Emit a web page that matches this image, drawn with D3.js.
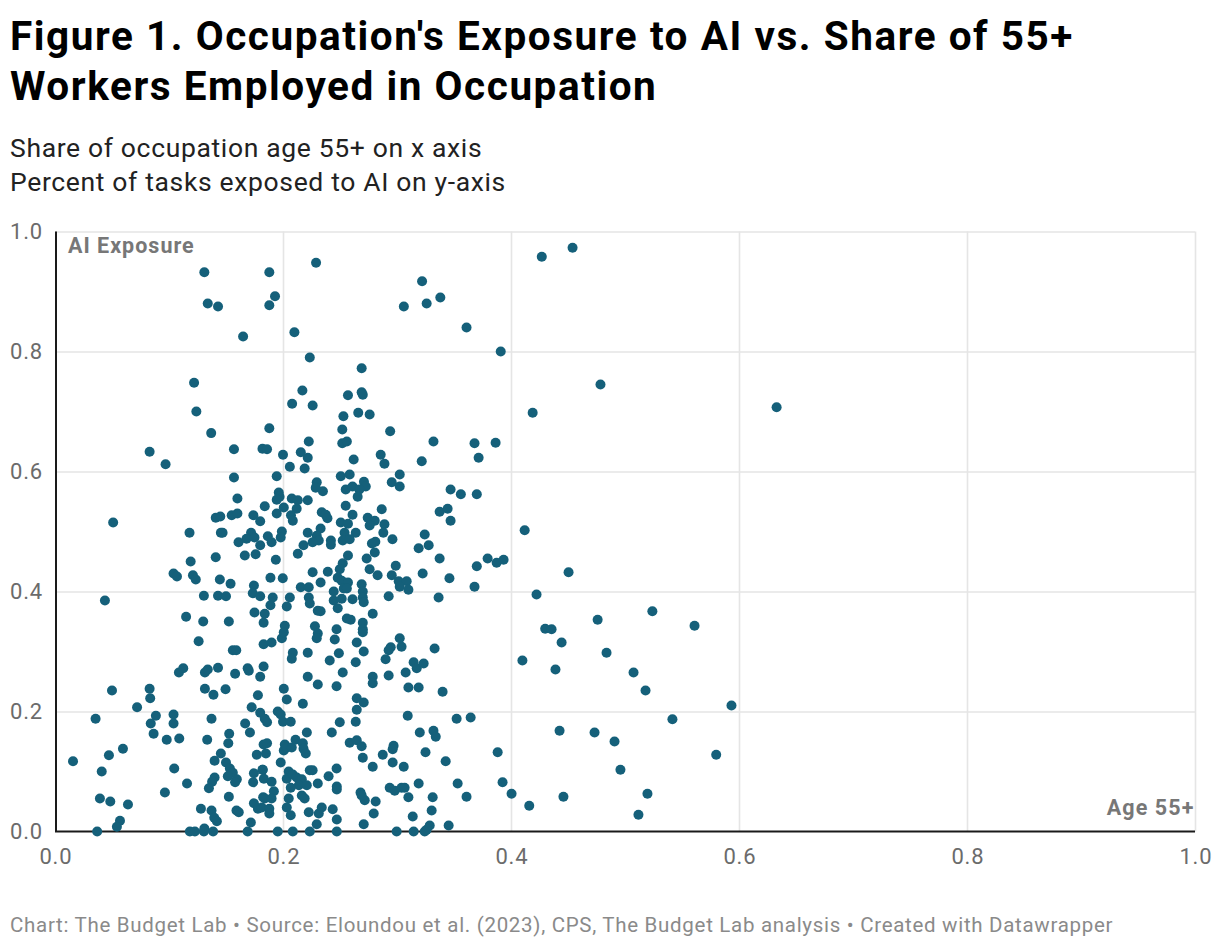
<!DOCTYPE html>
<html>
<head>
<meta charset="utf-8">
<script src="https://cdn.jsdelivr.net/npm/d3@7"></script>
<style>
  body { margin: 0; background: #fff; }
  text { font-family: Roboto, "Noto Sans", sans-serif; }
</style>
</head>
<body>
<script>
const titleLines = ["Figure 1. Occupation's Exposure to AI vs. Share of 55+", "Workers Employed in Occupation"]
const subtitleLines = ["Share of occupation age 55+ on x axis", "Percent of tasks exposed to AI on y-axis"]
const footerText = "Chart: The Budget Lab \u2022 Source: Eloundou et al. (2023), CPS, The Budget Lab analysis \u2022 Created with Datawrapper"

const xTicks = [0, 0.2, 0.4, 0.6, 0.8, 1.0]
const yTicks = [0, 0.2, 0.4, 0.6, 0.8, 1.0]

// [share of occupation age 55+, share of tasks exposed to AI]
const occupations = [
  [0.131,0.932],[0.188,0.932],[0.229,0.948],[0.134,0.880],[0.143,0.875],[0.193,0.892],[0.188,0.877],[0.165,0.825],[0.210,0.832],[0.322,0.917],[0.306,0.875],[0.326,0.880],[0.338,0.890],[0.361,0.840],[0.391,0.800],[0.427,0.958],[0.454,0.973],
  [0.2235,0.790],[0.269,0.772],[0.217,0.735],[0.208,0.713],[0.226,0.710],[0.257,0.727],[0.269,0.732],[0.270,0.728],[0.253,0.692],[0.266,0.698],[0.276,0.695],[0.188,0.672],[0.252,0.670],[0.294,0.667],
  [0.122,0.748],[0.124,0.700],[0.137,0.664],[0.4785,0.745],[0.419,0.698],[0.633,0.707],
  [0.083,0.633],[0.097,0.612],[0.157,0.637],[0.182,0.638],[0.157,0.590],[0.160,0.555],[0.184,0.542],[0.051,0.515],[0.141,0.523],[0.145,0.525],[0.155,0.527],[0.160,0.530],[0.174,0.527],[0.180,0.517],[0.118,0.498],[0.1455,0.498],[0.147,0.498],[0.172,0.498],[0.168,0.488],[0.175,0.490],[0.161,0.482],[0.180,0.477],[0.141,0.457],[0.1665,0.460],[0.176,0.462],[0.119,0.450],[0.104,0.430],[0.107,0.425],[0.121,0.427],[0.1235,0.420],[0.1446,0.420],[0.154,0.413],[0.1745,0.410],[0.0438,0.385],[0.1306,0.393],[0.143,0.393],[0.150,0.392],[0.1735,0.397],[0.180,0.392],[0.115,0.358],[0.130,0.350],[0.1525,0.350],[0.175,0.365],[0.183,0.348],
  [0.2226,0.650],[0.252,0.647],[0.256,0.650],[0.332,0.650],[0.186,0.637],[0.200,0.628],[0.2156,0.632],[0.2217,0.623],[0.262,0.620],[0.2857,0.628],[0.289,0.613],[0.3217,0.617],[0.206,0.608],[0.219,0.605],[0.1945,0.592],[0.2507,0.592],[0.2585,0.595],[0.271,0.583],[0.2726,0.575],[0.3024,0.595],[0.2954,0.582],[0.3024,0.575],[0.2296,0.582],[0.2287,0.573],[0.235,0.567],[0.255,0.570],[0.261,0.575],[0.267,0.570],[0.2655,0.558],[0.1963,0.565],[0.197,0.558],[0.1945,0.553],[0.347,0.570],[0.356,0.562],[0.2077,0.555],[0.213,0.552],[0.2217,0.552],[0.2007,0.540],[0.212,0.538],[0.255,0.543],[0.1945,0.530],[0.207,0.527],[0.234,0.532],[0.2375,0.528],[0.261,0.528],[0.2866,0.537],[0.3374,0.533],[0.3444,0.538],[0.347,0.518],[0.2086,0.518],[0.239,0.522],[0.2507,0.515],[0.257,0.513],[0.2743,0.523],[0.2805,0.518],[0.276,0.510],[0.289,0.512],[0.233,0.505],[0.254,0.498],[0.2638,0.498],[0.288,0.498],[0.2217,0.498],[0.199,0.500],[0.198,0.490],[0.1867,0.492],[0.190,0.482],[0.2296,0.493],[0.2314,0.485],[0.226,0.482],[0.218,0.477],[0.2524,0.485],[0.2585,0.487],[0.242,0.485],[0.242,0.478],[0.278,0.480],[0.281,0.483],[0.296,0.487],[0.3243,0.495],[0.3278,0.477],[0.319,0.472],[0.213,0.463],[0.257,0.460],[0.2805,0.465],[0.2734,0.455],[0.3374,0.455],[0.1937,0.453],[0.2524,0.447],[0.2989,0.443],[0.2498,0.437],[0.276,0.437],[0.226,0.432],[0.2393,0.433],[0.283,0.427],[0.2954,0.427],[0.3225,0.430],[0.346,0.422],[0.189,0.423],[0.1998,0.422],[0.248,0.423],[0.2515,0.418],[0.257,0.415],[0.233,0.415],[0.269,0.412],[0.3015,0.417],[0.3085,0.417],[0.3024,0.408],[0.310,0.403],[0.2156,0.407],[0.2226,0.407],[0.2445,0.400],[0.2533,0.405],[0.256,0.405],[0.270,0.400],[0.2927,0.392],[0.3365,0.390],[0.191,0.390],[0.206,0.390],[0.189,0.377],[0.2033,0.375],[0.2226,0.390],[0.2235,0.380],[0.2445,0.385],[0.2515,0.388],[0.261,0.387],[0.270,0.390],[0.2708,0.382],[0.248,0.372],[0.2305,0.368],[0.233,0.367],[0.2787,0.363],[0.184,0.363],[0.2016,0.343],[0.228,0.342],[0.256,0.355],[0.2594,0.353],[0.270,0.348],[0.247,0.337],
  [0.368,0.647],[0.3865,0.648],[0.3716,0.623],[0.370,0.562],[0.412,0.502],[0.3795,0.455],[0.3874,0.448],[0.3935,0.453],[0.370,0.442],[0.368,0.408],[0.4505,0.432],[0.4224,0.395],[0.524,0.367],[0.476,0.353],[0.561,0.343],[0.430,0.338],[0.4356,0.337],
  [0.4444,0.315],[0.410,0.285],[0.4838,0.298],[0.439,0.270],[0.5075,0.265],[0.518,0.235],[0.5934,0.210],[0.3646,0.190],[0.5416,0.187],[0.4426,0.168],[0.4733,0.165],[0.4908,0.150],[0.3883,0.132],[0.580,0.128],[0.496,0.103],[0.3926,0.082],[0.361,0.058],[0.4005,0.063],[0.416,0.043],[0.446,0.058],[0.5197,0.063],[0.5118,0.028],
  [0.126,0.317],[0.156,0.302],[0.159,0.302],[0.183,0.312],[0.1087,0.265],[0.1125,0.272],[0.1315,0.265],[0.134,0.270],[0.143,0.273],[0.158,0.263],[0.169,0.272],[0.170,0.268],[0.180,0.258],[0.183,0.275],[0.050,0.235],[0.083,0.238],[0.0835,0.222],[0.072,0.207],[0.1315,0.238],[0.139,0.228],[0.1496,0.237],[0.178,0.227],[0.1725,0.207],[0.180,0.198],[0.0356,0.188],[0.0885,0.193],[0.084,0.180],[0.104,0.195],[0.104,0.180],[0.0865,0.163],[0.098,0.153],[0.109,0.155],[0.1373,0.188],[0.1335,0.153],[0.1668,0.180],[0.171,0.165],[0.1528,0.163],[0.152,0.147],[0.183,0.145],[0.0596,0.138],[0.0473,0.127],[0.0158,0.117],[0.041,0.100],[0.1455,0.130],[0.140,0.118],[0.150,0.115],[0.177,0.128],[0.1534,0.105],[0.156,0.098],[0.1516,0.092],[0.1595,0.087],[0.158,0.082],[0.1745,0.097],[0.1738,0.082],[0.182,0.103],[0.1046,0.105],[0.1158,0.080],[0.140,0.090],[0.1378,0.083],[0.135,0.072],[0.0964,0.065],[0.0394,0.055],[0.0485,0.050],[0.064,0.045],[0.1525,0.058],[0.1745,0.047],[0.178,0.038],[0.1826,0.057],[0.128,0.038],[0.1373,0.035],[0.1397,0.023],[0.142,0.017],[0.1592,0.035],[0.1612,0.032],[0.1718,0.015],[0.057,0.018],[0.0543,0.008],[0.037,0],[0.1183,0],[0.1227,0],[0.131,0.005],[0.1306,0],[0.1387,0],[0.169,0],
  [0.2305,0.330],[0.2454,0.320],[0.270,0.337],[0.270,0.332],[0.2296,0.322],[0.199,0.322],[0.2007,0.332],[0.190,0.315],[0.2647,0.315],[0.2708,0.300],[0.3024,0.322],[0.304,0.308],[0.2945,0.307],[0.2927,0.302],[0.333,0.305],[0.2086,0.298],[0.2077,0.288],[0.2217,0.298],[0.249,0.297],[0.241,0.285],[0.2638,0.282],[0.290,0.287],[0.3146,0.282],[0.3173,0.272],[0.3234,0.280],[0.2217,0.258],[0.2305,0.245],[0.247,0.242],[0.2524,0.265],[0.2787,0.258],[0.2787,0.247],[0.2927,0.260],[0.3076,0.265],[0.310,0.240],[0.319,0.240],[0.340,0.233],[0.2007,0.238],[0.2033,0.220],[0.2174,0.213],[0.2647,0.222],[0.2708,0.215],[0.2647,0.203],[0.3094,0.193],[0.3523,0.188],[0.1954,0.200],[0.198,0.195],[0.184,0.188],[0.186,0.182],[0.200,0.183],[0.2068,0.183],[0.2498,0.182],[0.2638,0.183],[0.2428,0.165],[0.2209,0.165],[0.320,0.165],[0.332,0.168],[0.334,0.158],[0.186,0.147],[0.185,0.130],[0.2016,0.145],[0.2007,0.135],[0.2033,0.140],[0.211,0.153],[0.2077,0.140],[0.2174,0.147],[0.218,0.138],[0.220,0.130],[0.2585,0.148],[0.2647,0.152],[0.269,0.142],[0.270,0.123],[0.2787,0.108],[0.2875,0.128],[0.297,0.143],[0.2962,0.137],[0.2962,0.115],[0.3059,0.108],[0.325,0.132],[0.3427,0.117],[0.198,0.115],[0.1823,0.103],[0.1832,0.088],[0.190,0.083],[0.205,0.100],[0.2033,0.088],[0.2086,0.095],[0.212,0.090],[0.2165,0.087],[0.2139,0.077],[0.2209,0.077],[0.2068,0.073],[0.2235,0.102],[0.226,0.102],[0.247,0.105],[0.240,0.092],[0.2305,0.080],[0.2472,0.075],[0.2472,0.070],[0.192,0.067],[0.184,0.055],[0.190,0.055],[0.205,0.055],[0.2165,0.060],[0.219,0.055],[0.268,0.065],[0.2717,0.052],[0.269,0.060],[0.2813,0.050],[0.2936,0.073],[0.298,0.068],[0.304,0.073],[0.3067,0.073],[0.319,0.080],[0.310,0.057],[0.3313,0.057],[0.3532,0.080],[0.1814,0.040],[0.188,0.038],[0.188,0.030],[0.2033,0.040],[0.2068,0.027],[0.2226,0.032],[0.2314,0.030],[0.234,0.040],[0.2436,0.037],[0.2472,0.020],[0.2296,0.012],[0.2708,0.012],[0.2796,0.030],[0.3304,0.035],[0.3138,0.025],[0.3287,0.010],[0.326,0.003],[0.3453,0.010],[0.1954,0],[0.2086,0],[0.2235,0],[0.2472,0],[0.2997,0],[0.3146,0],[0.3243,0]
]

const WIDTH = 1220
const HEIGHT = 948
const PLOT = { left: 55, right: 1195, top: 231.5, bottom: 831.5 }
const DOT_COLOR = '#15607a'
const GRID_COLOR = '#e5e5e5'
const LABEL_COLOR = '#6b6b6b'

const svg = d3.select('body').append('svg')
  .attr('width', WIDTH)
  .attr('height', HEIGHT)

svg.append('rect').attr('width', WIDTH).attr('height', HEIGHT).attr('fill', '#fff')

const x = d3.scaleLinear().domain([0, 1]).range([PLOT.left, PLOT.right])
const y = d3.scaleLinear().domain([0, 1]).range([PLOT.bottom, PLOT.top])

// title + subtitle
svg.append('text')
  .style('font-size', '40.5px')
  .style('font-weight', 700)
  .style('letter-spacing', '1.55px')
  .attr('fill', '#000')
  .selectAll('tspan')
  .data(titleLines)
  .join('tspan')
  .attr('x', 10)
  .attr('y', (d, i) => 50 + i * 50)
  .text(d => d)

svg.append('text')
  .style('font-size', '26.5px')
  .style('letter-spacing', '0.65px')
  .attr('fill', '#222')
  .selectAll('tspan')
  .data(subtitleLines)
  .join('tspan')
  .attr('x', 10)
  .attr('y', (d, i) => 157 + i * 34)
  .text(d => d)

// gridlines
svg.append('g')
  .attr('transform', `translate(${PLOT.left},0)`)
  .call(d3.axisLeft(y).tickValues(yTicks.filter(d => d > 0)).tickSize(-(PLOT.right - PLOT.left)).tickFormat(''))
  .call(g => g.select('.domain').remove())
  .call(g => g.selectAll('line').attr('stroke', GRID_COLOR).attr('stroke-width', 1.6))

svg.append('g')
  .attr('transform', `translate(0,${PLOT.bottom})`)
  .call(d3.axisBottom(x).tickValues(xTicks.filter(d => d > 0)).tickSize(-(PLOT.bottom - PLOT.top)).tickFormat(''))
  .call(g => g.select('.domain').remove())
  .call(g => g.selectAll('line').attr('stroke', GRID_COLOR).attr('stroke-width', 1.6))

// tick labels
svg.append('g')
  .attr('transform', `translate(${PLOT.left},0)`)
  .call(d3.axisLeft(y).tickValues(yTicks).tickSize(0).tickPadding(12).tickFormat(d3.format('.1f')))
  .call(g => g.select('.domain').remove())
  .call(g => g.selectAll('text')
    .attr('fill', LABEL_COLOR)
    .style('font-size', '22px')
    .style('letter-spacing', '0.8px')
    .style('font-family', 'Roboto, sans-serif'))

svg.append('g')
  .attr('transform', `translate(0,${PLOT.bottom})`)
  .call(d3.axisBottom(x).tickValues(xTicks).tickSize(0).tickPadding(17).tickFormat(d3.format('.1f')))
  .call(g => g.select('.domain').remove())
  .call(g => g.selectAll('text')
    .attr('fill', LABEL_COLOR)
    .attr('dx', '0.4px')
    .style('font-size', '22px')
    .style('letter-spacing', '0.8px')
    .style('font-family', 'Roboto, sans-serif'))

// axis lines
svg.append('line')
  .attr('x1', PLOT.left).attr('x2', PLOT.right)
  .attr('y1', y(0)).attr('y2', y(0))
  .attr('stroke', '#1a1a1a').attr('stroke-width', 2)

svg.append('line')
  .attr('x1', x(0) + 1).attr('x2', x(0) + 1)
  .attr('y1', y(1)).attr('y2', y(0))
  .attr('stroke', '#1a1a1a').attr('stroke-width', 2)

svg.append('text')
  .attr('x', 68).attr('y', 253)
  .style('font-size', '21.5px').style('font-weight', 700)
  .style('letter-spacing', '1px')
  .attr('fill', '#777')
  .text('AI Exposure')

svg.append('text')
  .attr('x', 1194.5).attr('y', 815)
  .attr('text-anchor', 'end')
  .style('font-size', '21.5px').style('font-weight', 700)
  .style('letter-spacing', '1.1px')
  .attr('fill', '#777')
  .text('Age 55+')

// dots
svg.append('g')
  .selectAll('circle')
  .data(occupations)
  .join('circle')
  .attr('cx', d => x(d[0]))
  .attr('cy', d => y(d[1]))
  .attr('r', 5)
  .attr('fill', DOT_COLOR)

svg.append('text')
  .attr('x', 10).attr('y', 932)
  .style('font-size', '20.5px')
  .style('letter-spacing', '0.7px')
  .attr('fill', '#8a8a8a')
  .text(footerText)
</script>
</body>
</html>
